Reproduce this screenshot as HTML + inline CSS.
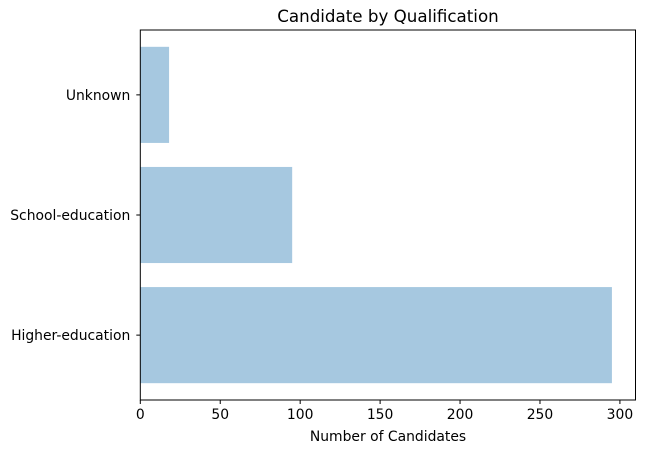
<!DOCTYPE html>
<html><head><meta charset="utf-8"><style>
body{margin:0;background:#fff;}
svg text{font-family:"DejaVu Sans","Liberation Sans",sans-serif;font-size:13.9px;fill:#000;}
</style></head><body>
<svg id="chart" width="649" height="453" xmlns="http://www.w3.org/2000/svg">
<text x="388" y="22" text-anchor="middle" style="font-size:16.7px">Candidate by Qualification</text>
<g id="bars"></g>
<g id="axes"></g>
<text x="388" y="441" text-anchor="middle">Number of Candidates</text>
</svg>
<script>
const categories = ["Higher-education","School-education","Unknown"];
const values = [295, 95, 18];
const xTicks = [0,50,100,150,200,250,300];
const L=140.3, R=635.5, T=30, B=400;
const xmax = 309.75;
const x = v => L + v/xmax*(R-L);
const unit = (B-T)/3.08;
const y = i => B - (0.54 + i)*unit;
const ns="http://www.w3.org/2000/svg";
const bars=document.getElementById('bars'), axes=document.getElementById('axes');
function mk(tag, attrs, parent){const e=document.createElementNS(ns,tag);for(const k in attrs)e.setAttribute(k,attrs[k]);parent.appendChild(e);return e;}
categories.forEach((c,i)=>{
  const r=mk('rect',{x:L,y:y(i)-0.4*unit,width:x(values[i])-L,height:0.8*unit,fill:'#a6c8e0'},bars);
  
  
  const t=mk('text',{x:L-10,y:y(i)+5,'text-anchor':'end'},axes);
  t.textContent=c;
  
  
  mk('line',{x1:L-4,x2:L,y1:y(i),y2:y(i),stroke:'#000'},axes);
});
xTicks.forEach(v=>{
  mk('line',{x1:x(v),x2:x(v),y1:B,y2:B+4,stroke:'#000'},axes);
  const t=mk('text',{x:x(v),y:B+19,'text-anchor':'middle'},axes);
  t.textContent=v;
  
  
});
const f=mk('rect',{x:L,y:T,width:R-L,height:B-T,fill:'none',stroke:'#000','stroke-width':1},axes);


</script>
</body></html>
